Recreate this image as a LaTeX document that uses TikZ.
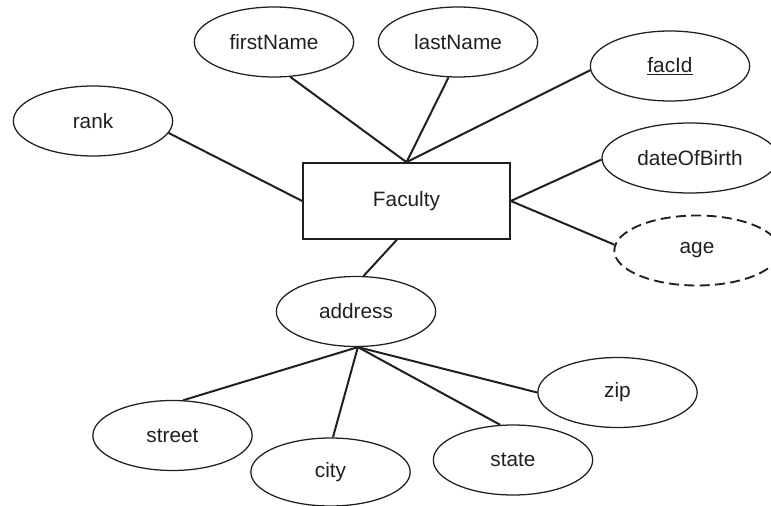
\documentclass[tikz,border=0pt]{standalone}
\usepackage{fontspec}
\setmainfont{Liberation Sans}
\usetikzlibrary{shapes.geometric}
\definecolor{ink}{RGB}{35,31,32}
\tikzset{
  attr/.style={draw=ink, line width=0.95pt, ellipse, inner sep=0pt,
    minimum width=119.5pt, minimum height=52.5pt, text=ink,
    font=\fontsize{15.6}{18}\selectfont},
  derived/.style={attr, dashed, dash pattern=on 7.5pt off 4pt, line width=1.4pt},
  entity/.style={draw=ink, line width=1.2pt, rectangle, inner sep=0pt,
    minimum width=155.25pt, minimum height=57pt, text=ink,
    font=\fontsize{15.6}{18}\selectfont},
  link/.style={draw=ink, line width=1.5pt}
}
\begin{document}
\begin{tikzpicture}[x=0.75pt,y=-0.75pt]
\useasboundingbox (0,0) rectangle (771,506);
\node[entity] (fac) at (406.5,201) {Faculty};
\node[attr] (first) at (274,42) {firstName};
\node[attr] (last) at (458,42) {lastName};
\node[attr] (facid) at (670,66) {\underline{facId}};
\node[attr] (rank) at (93,121) {rank};
\node[attr, minimum width=132pt] (dob) at (690,158) {dateOfBirth};
\node[derived, minimum width=124pt] (age) at (697,250.5) {age};
\node[attr] (addr) at (356,311.5) {address};
\node[attr] (street) at (172.5,435.5) {street};
\node[attr, minimum height=51pt] (city) at (330.5,472) {city};
\node[attr] (state) at (513,460) {state};
\node[attr] (zip) at (617.5,392.5) {zip};
\draw[link] (fac.north) -- (first.-65);
\draw[link] (fac.north) -- (last.-105);
\draw[link] (fac.north) -- (facid.-177);
\draw[link] (fac.west) -- (rank.-9);
\draw[link] (fac.east) -- (dob.-179);
\draw[link] (fac.east) -- (age.176);
\draw[link] (fac.-104) -- (addr.78.5);
\draw[link] (addr.-87) -- (street.73);
\draw[link] (addr.-87) -- (city.86);
\draw[link] (addr.-87) -- (state.110);
\draw[link] (addr.-87) -- (zip.180);
\end{tikzpicture}
\end{document}
